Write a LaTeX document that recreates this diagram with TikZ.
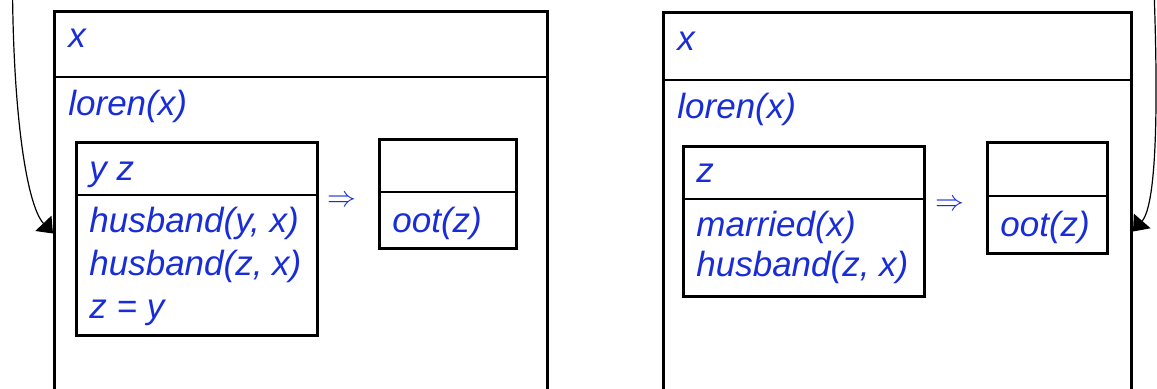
\documentclass[tikz,border=0pt]{standalone}
\usepackage{fontspec}
\setmainfont{Liberation Sans}
\usetikzlibrary{arrows.meta}
\definecolor{drsblue}{RGB}{25,45,215}

\tikzset{
    bigbox/.style={draw, line width=1.5pt, anchor=north west, inner sep=0pt},
    drsbox/.style={draw, line width=1.5pt, anchor=north west, inner sep=0pt},
    divider/.style={line width=0.8pt},
    cond/.style={anchor=base west, inner sep=0pt, text=drsblue,
        font=\fontsize{17.5}{21}\selectfont\itshape},
    imp/.style={inner sep=0pt, text=drsblue, font=\fontsize{14}{16}\selectfont},
    loop/.style={line width=0.6pt, -{Triangle[length=7pt,width=11pt]}}
}

\begin{document}
\begin{tikzpicture}[x=0.5pt, y=-0.5pt]
    \useasboundingbox (0,0) rectangle (1157,389);
    \clip (0,0) rectangle (1157,389);

    % left box
    \node (lbox) [bigbox, minimum width=246.5pt, minimum height=222pt] at (53,10) {};
    \draw [divider] (lbox.west |- 0,77) -- (lbox.east |- 0,77);
    \node (lref) [cond] at (68,48) {x};
    \node (lloren) [cond] at (68,116) {loren(x)};

    \node (ante1) [drsbox, minimum width=120.5pt, minimum height=96.5pt] at (75,141) {};
    \draw [divider] (ante1.west |- 0,195) -- (ante1.east |- 0,195);
    \node (ante1ref) [cond] at (89,181) {y z};
    \node (ante1a) [cond] at (89,233) {husband(y, x)};
    \node (ante1b) [cond] at (89,276) {husband(z, x)};
    \node (ante1c) [cond] at (89,319) {z = y};

    \node (imp1) [imp] at (342,201) {$\Rightarrow$};

    \node (cons1) [drsbox, minimum width=68.5pt, minimum height=54.5pt] at (378,138) {};
    \draw [divider] (cons1.west |- 0,192) -- (cons1.east |- 0,192);
    \node (cons1a) [cond] at (392,233) {oot(z)};

    % right box
    \node (rbox) [bigbox, minimum width=234pt, minimum height=219pt] at (662,11) {};
    \draw [divider] (rbox.west |- 0,80) -- (rbox.east |- 0,80);
    \node (rref) [cond] at (677,51) {x};
    \node (rloren) [cond] at (677,119) {loren(x)};

    \node (ante2) [drsbox, minimum width=120.5pt, minimum height=75pt] at (682,145) {};
    \draw [divider] (ante2.west |- 0,199) -- (ante2.east |- 0,199);
    \node (ante2ref) [cond] at (696,183) {z};
    \node (ante2a) [cond] at (696,237) {married(x)};
    \node (ante2b) [cond] at (696,277) {husband(z, x)};

    \node (imp2) [imp] at (950,205) {$\Rightarrow$};

    \node (cons2) [drsbox, minimum width=60pt, minimum height=55.5pt] at (986,141) {};
    \draw [divider] (cons2.west |- 0,196) -- (cons2.east |- 0,196);
    \node (cons2a) [cond] at (1000,237) {oot(z)};

    % loops from above
    \coordinate (lsrc) at (13,-80);
    \coordinate (rsrc) at (1151,-80);
    \draw [loop] (lsrc) .. controls (9,100) and (26,205) .. (lbox.west);
    \draw [loop] (rsrc) .. controls (1160,100) and (1157,204) .. (rbox.east);
\end{tikzpicture}
\end{document}
